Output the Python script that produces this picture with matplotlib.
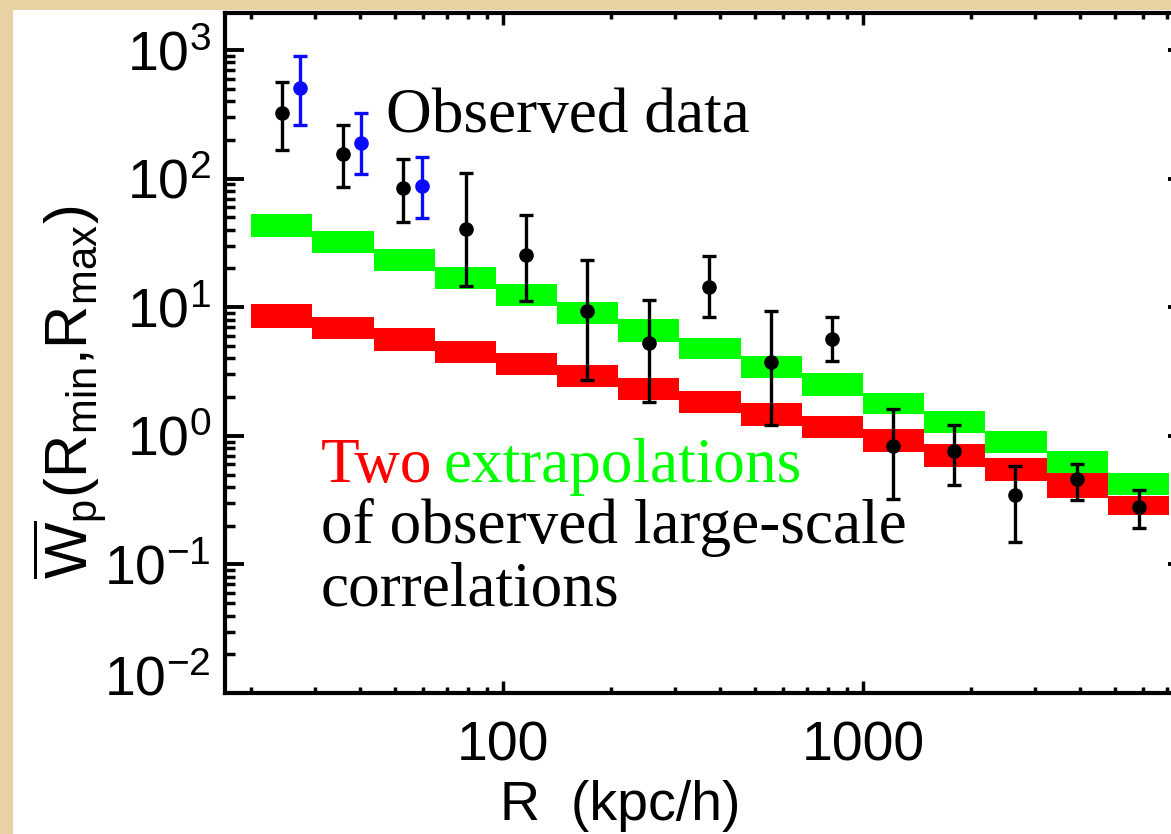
import numpy as np
import matplotlib
matplotlib.use('Agg')
import matplotlib.pyplot as plt
from matplotlib.patches import Rectangle
from matplotlib.ticker import FixedLocator, NullFormatter, FixedFormatter
from matplotlib.transforms import ScaledTranslation

plt.rcParams['font.family'] = ['Liberation Sans', 'DejaVu Sans']
plt.rcParams['mathtext.fontset'] = 'custom'
plt.rcParams['mathtext.rm'] = 'Liberation Sans'
plt.rcParams['mathtext.it'] = 'Liberation Sans:italic'
plt.rcParams['mathtext.bf'] = 'Liberation Sans:bold'

# ---- data ----
bin_edges = [19.95, 29.5, 43.7, 64.6, 95.5, 141.3, 208.9, 309.0, 457.1,
             676.1, 1000.0, 1479.0, 2188.0, 3236.0, 4786.0, 7079.0]

green_hi = [53.0, 39.1, 28.3, 20.6, 15.2, 10.98, 8.05, 5.79, 4.17, 3.06,
            2.16, 1.56, 1.096, 0.762, 0.517]
green_lo = [35.3, 26.2, 19.1, 13.8, 10.2, 7.44, 5.39, 3.93, 2.83, 2.04,
            1.47, 1.046, 0.739, 0.511, 0.347]

red_hi = [10.5, 8.44, 6.83, 5.44, 4.43, 3.53, 2.83, 2.24, 1.81, 1.43,
          1.13, 0.859, 0.668, 0.511, 0.342]
red_lo = [6.89, 5.63, 4.59, 3.66, 2.97, 2.38, 1.90, 1.50, 1.20, 0.956,
          0.752, 0.575, 0.445, 0.330, 0.242]

R_black = [24.3, 36.0, 52.9, 78.8, 115.8, 171.5, 255.0, 374.0, 556.0,
           821.0, 1213.0, 1793.0, 2647.0, 3930.0, 5845.0]
W_black = [322, 155, 84.1, 40.6, 25.5, 9.39, 5.30, 14.4, 3.77, 5.63,
           0.838, 0.762, 0.347, 0.461, 0.281]
W_black_hi = [567, 261, 141, 111, 52.1, 23.3, 11.4, 25.0, 9.39, 8.35,
              1.62, 1.21, 0.585, 0.603, 0.379]
W_black_lo = [167, 86.5, 46.2, 14.7, 11.2, 2.72, 1.84, 8.44, 1.21, 3.82,
              0.321, 0.414, 0.150, 0.317, 0.191]

R_blue = [27.3, 40.3, 59.7]
W_blue = [504, 190, 87.6]
W_blue_hi = [903, 325, 148]
W_blue_lo = [261, 108, 49.6]

y_major = [1e-2, 1e-1, 1e0, 1e1, 1e2, 1e3]
y_major_labels = [r'$\mathregular{10^{-2}}$', r'$\mathregular{10^{-1}}$',
                  r'$\mathregular{10^{0}}$', r'$\mathregular{10^{1}}$',
                  r'$\mathregular{10^{2}}$', r'$\mathregular{10^{3}}$']
x_major = [100, 1000]
x_major_labels = ['100', '1000']

# ---- figure ----
W, H = 1171, 834
fig = plt.figure(figsize=(W / 100, H / 100), dpi=100)
fig.patch.set_facecolor('#e8d1a3')
fig.patches.append(Rectangle((13 / W, 0), 1.0, 1 - 10 / H, transform=fig.transFigure,
                             facecolor='white', edgecolor='none', zorder=-5))

left, right, top, bottom = 225, 1187, 13, 693
ax = fig.add_axes([left / W, (H - bottom) / H, (right - left) / W, (bottom - top) / H])
ax.set_zorder(1)
ax.set_facecolor('white')
ax.set_xscale('log')
ax.set_yscale('log')
ax.set_xlim(16.9, 7943)
ax.set_ylim(0.01, 1940)

edges = np.array(bin_edges)
widths = np.diff(edges)
ax.bar(edges[:-1], np.array(red_hi) - np.array(red_lo), bottom=red_lo, width=widths,
       align='edge', color='#ff0000', linewidth=0, zorder=2)
ax.bar(edges[:-1], np.array(green_hi) - np.array(green_lo), bottom=green_lo, width=widths,
       align='edge', color='#00ff00', linewidth=0, zorder=2)

Wb = np.array(W_black)
ax.errorbar(R_black, Wb, yerr=[Wb - np.array(W_black_lo), np.array(W_black_hi) - Wb],
            fmt='o', color='black', ms=9.5, elinewidth=2.4, capsize=5, capthick=2.4, zorder=4)
Wu = np.array(W_blue)
ax.errorbar(R_blue, Wu, yerr=[Wu - np.array(W_blue_lo), np.array(W_blue_hi) - Wu],
            fmt='o', color='#0a0aff', ms=9.5, elinewidth=2.4, capsize=5, capthick=2.4, zorder=4)

# axes styling
for s in ax.spines.values():
    s.set_linewidth(3.0)
    s.set_color('black')

ax.yaxis.set_major_locator(FixedLocator(y_major))
ax.yaxis.set_major_formatter(FixedFormatter(y_major_labels))
ax.yaxis.set_minor_locator(matplotlib.ticker.LogLocator(base=10, subs=np.arange(2, 10), numticks=20))
ax.yaxis.set_minor_formatter(NullFormatter())
ax.xaxis.set_major_locator(FixedLocator(x_major))
ax.xaxis.set_major_formatter(FixedFormatter(x_major_labels))
ax.xaxis.set_minor_locator(matplotlib.ticker.LogLocator(base=10, subs=np.arange(2, 10), numticks=20))
ax.xaxis.set_minor_formatter(NullFormatter())

ax.tick_params(axis='y', which='major', direction='in', length=13.7, width=2.8,
               left=True, right=True, labelsize=40, pad=10)
ax.tick_params(axis='y', which='minor', direction='in', length=7.2, width=2.5,
               left=True, right=True)
ax.tick_params(axis='x', which='major', direction='in', length=8.6, width=2.5,
               top=True, bottom=True, labelsize=40, pad=20)
ax.tick_params(axis='x', which='minor', direction='in', length=4.0, width=2.5,
               top=True, bottom=True)

# the lowest y label sits a little above its tick, as in the original
fig.canvas.draw()
lowest = ax.yaxis.get_major_ticks()[0].label1
lowest.set_transform(lowest.get_transform() + ScaledTranslation(0, 0.18, fig.dpi_scale_trans))

fig.text(620 / W, 1 - 806 / H, 'R  (kpc/h)', fontsize=40, ha='center', va='center')
fig.text(70 / W, 1 - 392 / H,
         r'$\overline{\mathrm{W}}_\mathrm{p}(\mathrm{R}_\mathrm{min}{,}\mathrm{R}_\mathrm{max})$',
         fontsize=43, rotation=90, ha='center', va='center')

serif = ['Liberation Serif', 'DejaVu Serif']
ax.text(386 / W, 1 - 132 / H, 'Observed data', family=serif, fontsize=45.5,
        color='black', va='baseline', ha='left', transform=fig.transFigure, zorder=5)
t1 = ax.text(321 / W, 1 - 482 / H, 'Two', family=serif, fontsize=45.5,
             color='#ff0000', va='baseline', ha='left', transform=fig.transFigure, zorder=5)
ax.annotate('extrapolations', xy=(1, 0), xycoords=t1, xytext=(8, 0),
            textcoords='offset points', family=serif, fontsize=45.5,
            color='#00ff00', va='bottom', ha='left', zorder=5)
ax.text(321 / W, 1 - 543 / H, 'of observed large-scale', family=serif, fontsize=45.5,
        color='black', va='baseline', ha='left', transform=fig.transFigure, zorder=5)
ax.text(321 / W, 1 - 605 / H, 'correlations', family=serif, fontsize=45.5,
        color='black', va='baseline', ha='left', transform=fig.transFigure, zorder=5)

fig.savefig('out.png', dpi=100, facecolor=fig.get_facecolor())
